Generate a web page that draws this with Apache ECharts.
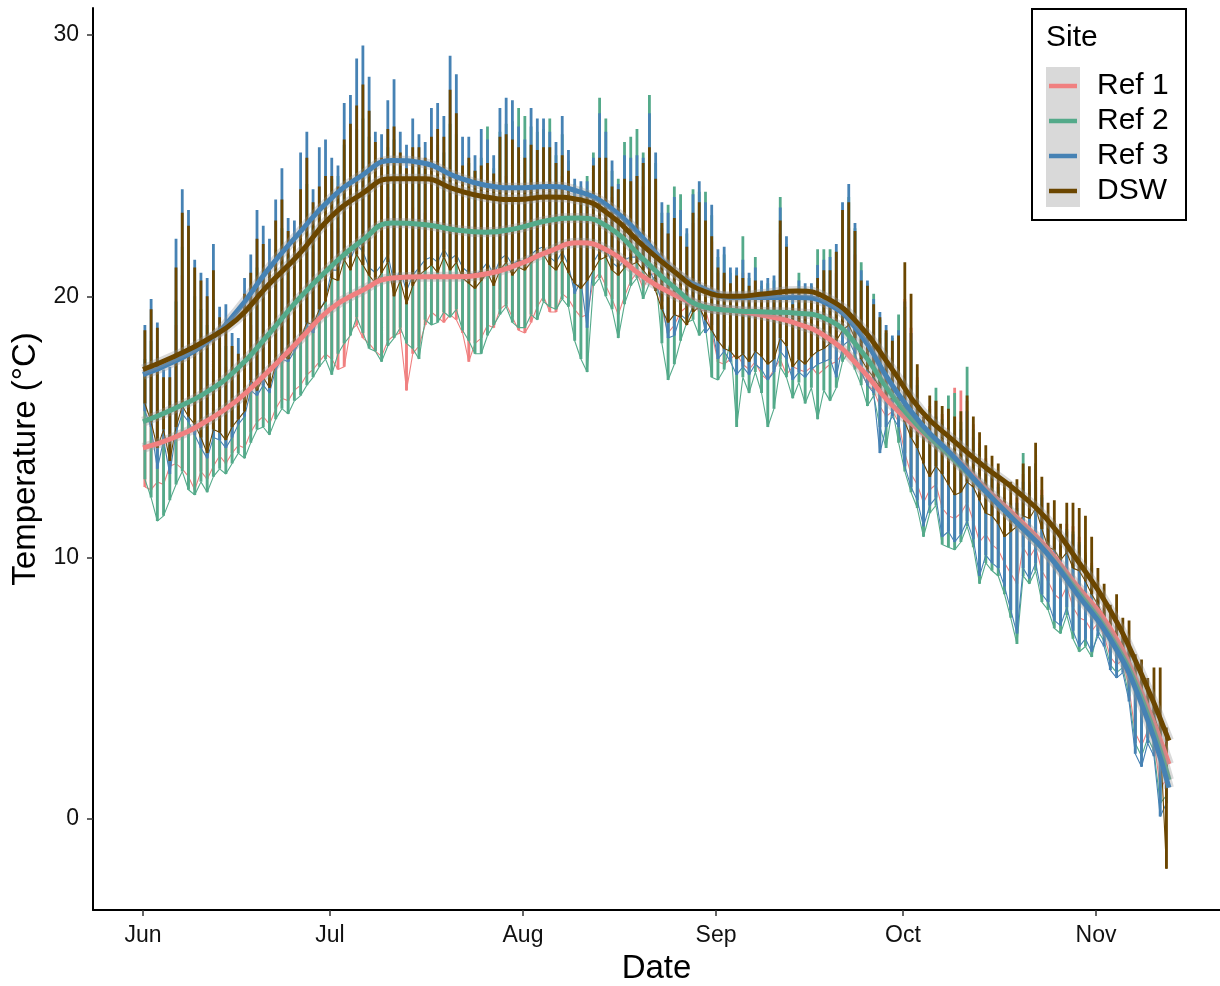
<!DOCTYPE html>
<html>
<head>
<meta charset="utf-8">
<script src="https://cdn.jsdelivr.net/npm/echarts@6/dist/echarts.min.js"></script>
<style>
  html, body { margin: 0; padding: 0; background: #ffffff; overflow: hidden; }
  #chart { width: 1220px; height: 986px; }
</style>
</head>
<body>
<div id="chart"></div>
<script>
// Site temperature record, 1 June – 12 November (day 0 = 1 June)
const siteNames = ['Ref 1', 'Ref 2', 'Ref 3', 'DSW'];
const monthTicks = [0, 30, 61, 92, 122, 153];
const monthLabels = ['Jun', 'Jul', 'Aug', 'Sep', 'Oct', 'Nov'];
const tempTicks = [0, 10, 20, 30];

// Daily maximum / minimum temperature (°C), one value per day, Jun → Nov
const ref1Max = [
  16.8,17.5,17.0,15.6,15.5,18.9,20.8,20.4,19.1,18.6,18.0,18.9,17.5,17.3,16.7,16.4,18.2,18.9,20.0,19.9,19.3,20.7,21.4,20.6,20.5,22.0,23.0,21.7,22.3,22.7,
  22.5,22.6,23.5,23.7,24.1,24.5,24.0,23.2,23.1,23.8,24.1,23.3,23.0,23.4,23.3,23.2,23.8,24.0,23.7,24.6,24.3,23.4,23.6,23.3,23.7,24.2,23.5,24.3,24.6,24.5,24.8,
  24.2,24.5,24.4,24.6,24.5,24.1,24.6,24.0,23.3,23.2,23.5,24.2,25.1,24.8,23.8,23.4,24.3,24.5,24.6,24.2,25.2,24.0,22.6,22.4,22.8,22.4,21.9,22.8,23.0,22.6,22.1,
  20.9,20.8,20.3,20.5,20.9,20.2,20.6,19.9,20.0,20.0,22.4,21.5,19.5,19.9,19.7,19.7,20.4,20.6,20.6,20.9,22.2,22.6,21.6,20.2,19.6,19.1,18.4,17.9,17.6,17.8,
  19.9,18.8,16.9,15.4,15.8,16.0,15.5,15.6,16.5,16.4,16.0,15.1,14.4,13.8,13.3,12.9,12.3,12.2,12.3,13.2,12.9,13.6,12.6,11.6,11.4,10.7,11.3,11.2,10.8,10.2,9.8,
  8.8,8.2,7.8,7.6,7.1,6.8,5.8,5.3,4.7,4.5,3.9,2.4
];
const ref1Min = [
  12.7,12.6,12.9,12.8,13.5,13.6,13.4,13.1,12.6,13.3,13.0,13.5,13.9,13.6,14.0,14.3,14.2,14.8,15.2,15.4,15.1,15.7,16.1,16.0,16.4,16.6,17.0,17.2,17.5,17.8,
  17.6,17.2,17.3,18.7,18.9,18.4,18.2,17.9,17.7,18.3,18.5,18.6,16.4,17.8,18.1,18.9,19.4,19.2,19.0,19.3,19.1,18.6,17.5,18.2,18.4,18.9,18.8,19.5,19.7,19.2,18.7,
  18.6,19.0,19.6,20.0,19.4,19.4,20.1,19.9,19.5,19.2,19.3,20.6,20.9,20.4,19.9,19.3,20.0,20.6,20.9,20.3,20.8,20.9,19.5,18.6,18.9,19.4,19.6,19.8,19.4,19.5,18.6,
  17.5,17.4,17.6,17.8,17.4,17.2,17.5,17.0,16.8,17.2,17.6,17.0,17.3,17.2,17.1,17.3,17.0,17.2,17.4,17.5,17.8,17.9,17.6,17.1,16.6,16.4,15.8,15.4,15.6,15.2,
  14.0,13.2,12.8,12.1,12.6,12.8,11.9,11.6,11.5,11.7,12.1,11.4,10.6,10.9,10.5,10.3,9.8,9.4,9.0,10.4,10.0,10.4,9.5,9.1,8.6,8.4,8.9,8.1,7.7,7.6,7.2,
  7.5,7.0,6.2,5.9,6.1,5.0,3.3,2.8,3.4,3.0,1.2,1.5
];
const ref2Max = [
  17.6,18.3,17.7,16.1,16.0,19.8,21.9,21.5,20.0,19.5,18.9,19.9,18.3,18.1,17.3,17.0,19.0,19.9,21.1,20.9,20.2,21.8,22.6,21.6,21.4,23.1,24.3,22.7,23.3,23.7,
  24.5,24.6,25.8,26.0,26.4,26.8,26.1,25.1,25.0,25.7,26.0,25.0,24.6,25.2,25.1,24.9,25.6,25.8,25.5,26.6,26.2,24.9,25.1,24.8,25.3,26.5,24.9,26.3,26.6,26.7,27.2,
  26.9,26.5,26.3,26.4,26.8,25.4,26.2,25.2,24.3,24.2,24.6,25.5,27.6,26.8,24.8,24.5,25.9,26.1,26.4,25.5,27.7,25.1,23.2,23.5,24.2,23.9,22.4,24.1,24.0,24.0,23.1,
  21.5,21.6,20.9,21.0,22.3,20.7,21.5,20.4,20.5,20.6,23.8,22.0,19.9,20.9,20.3,20.4,21.8,21.8,21.8,21.7,23.2,23.8,22.6,21.3,20.5,20.1,19.1,18.6,18.4,19.3,
  19.6,18.3,16.8,15.2,15.7,16.5,15.3,16.2,16.3,15.2,17.3,14.9,14.2,13.7,13.4,12.8,12.2,12.1,11.9,14.0,12.8,13.6,12.4,11.5,11.3,10.6,11.1,11.0,10.6,10.1,9.7,
  8.6,8.0,7.5,7.4,6.9,6.5,5.5,5.0,4.3,4.2,3.4,1.8
];
const ref2Min = [
  13.0,12.3,11.4,11.6,12.2,12.8,13.3,12.6,12.4,12.9,12.5,13.1,13.4,13.2,13.6,14.0,13.8,14.4,14.9,15.0,14.7,15.3,15.7,15.5,16.0,16.2,16.6,16.9,17.3,17.6,
  17.0,17.8,18.2,18.5,19.2,18.6,18.0,17.9,17.5,18.1,18.4,18.8,18.2,18.0,17.6,19.1,18.9,19.0,19.4,19.2,19.5,18.7,18.3,17.8,17.8,18.5,18.9,19.3,19.6,19.0,18.8,
  18.8,19.3,19.1,19.8,19.6,19.5,19.9,19.6,18.3,17.6,17.1,20.4,20.7,20.0,19.5,18.4,19.7,20.4,20.7,19.9,20.5,20.8,18.2,16.8,17.4,18.3,19.0,19.1,18.5,18.8,16.9,
  16.8,17.2,18.3,15.0,16.9,16.3,17.1,16.3,15.0,15.7,17.3,16.9,16.1,16.7,15.9,16.5,15.3,16.4,16.0,16.5,17.5,17.9,17.2,16.6,15.8,16.2,15.0,14.2,15.7,14.4,
  13.3,12.5,11.9,10.8,11.7,12.0,10.5,10.4,10.3,10.6,11.2,10.4,9.0,9.8,9.5,9.3,8.6,7.7,6.7,9.3,9.0,9.5,8.3,8.0,7.3,7.1,7.8,6.9,6.4,6.6,6.2,
  7.2,6.8,5.9,5.6,5.8,4.7,2.9,2.4,3.1,2.6,0.6,0.9
];
const ref3Max = [
  18.9,19.9,19.0,17.2,17.3,22.2,24.1,23.3,21.4,20.9,20.7,22.0,19.6,19.7,18.6,18.4,20.7,21.6,23.3,22.7,22.2,23.7,24.9,23.0,22.9,25.5,26.3,24.1,25.7,26.0,
  25.3,25.0,27.4,27.7,29.1,29.6,28.4,26.3,26.2,27.5,28.3,26.3,25.8,26.8,26.2,25.9,27.2,27.4,26.9,29.2,28.5,26.1,26.1,25.4,26.4,26.0,25.4,27.2,27.6,27.5,26.5,
  26.0,27.2,26.8,26.8,26.3,25.9,26.9,25.6,24.5,24.4,24.4,25.3,27.0,26.3,25.2,24.3,25.4,25.3,25.4,25.3,27.0,25.5,23.6,23.2,23.8,23.3,22.6,23.9,24.4,23.6,23.5,
  21.8,21.9,21.1,21.1,21.4,20.9,21.1,20.6,20.7,20.8,23.4,22.3,20.2,20.6,20.5,20.5,21.2,21.4,21.5,22.0,23.6,24.3,22.8,21.0,20.6,19.9,19.4,18.9,18.5,18.7,
  19.8,18.6,16.6,14.9,15.5,15.4,15.1,15.0,14.7,14.9,15.6,14.6,13.9,13.6,13.1,12.7,12.1,12.0,12.1,12.9,12.6,13.4,12.3,11.3,11.2,10.5,11.0,10.9,10.5,10.0,9.6,
  8.4,7.9,7.4,7.2,6.8,6.6,5.6,5.1,4.4,4.3,3.6,1.6
];
const ref3Min = [
  15.6,15.0,13.4,14.5,13.2,14.8,15.5,15.2,14.7,14.2,13.8,14.6,14.5,14.2,14.6,15.1,15.4,16.4,16.2,16.6,16.3,17.2,17.6,17.5,17.9,18.3,18.9,18.6,19.4,19.9,
  21.0,21.0,21.8,21.4,22.0,21.7,21.1,20.9,21.2,21.6,20.5,21.0,20.2,20.8,21.1,21.4,21.5,21.3,21.8,21.4,21.6,21.1,20.9,20.8,21.0,21.3,20.8,21.4,21.6,21.2,21.4,
  21.3,21.6,21.8,21.9,21.5,21.3,21.7,21.2,20.1,20.6,18.8,21.3,21.7,21.8,21.3,21.1,21.4,21.5,21.5,21.3,21.0,20.5,19.8,18.4,18.5,19.3,19.1,19.6,19.8,18.6,18.9,
  17.6,17.9,17.5,17.0,17.3,17.0,17.4,17.2,16.8,17.1,17.9,17.6,16.8,17.1,16.9,17.2,17.4,17.5,17.6,16.9,18.1,18.3,17.8,17.1,16.6,16.3,14.0,15.0,15.4,15.0,
  13.5,12.7,12.2,11.2,12.0,12.3,10.8,11.0,10.6,10.9,11.4,10.7,9.3,10.1,9.8,9.6,8.9,8.0,7.1,9.6,9.2,9.8,8.6,8.3,7.6,7.4,8.1,7.2,6.6,6.9,6.4,
  7.0,6.6,5.7,5.4,5.6,4.5,2.5,2.0,2.9,2.4,0.1,0.6
];
const dswMax = [
  18.7,19.5,18.8,16.9,16.9,21.1,23.2,22.7,21.1,20.6,20.0,21.0,19.2,19.0,18.1,17.8,20.1,20.9,22.2,22.0,21.1,22.9,23.7,22.5,22.3,24.1,25.3,23.6,24.2,24.6,
  24.6,24.2,26.0,26.6,27.3,28.1,27.1,25.9,25.3,26.4,26.5,25.5,24.9,25.7,25.7,25.3,26.1,26.4,26.1,27.9,27.0,25.0,25.3,24.8,25.0,25.1,24.7,26.1,26.2,26.0,25.7,
  25.3,25.8,25.6,25.7,25.7,25.1,25.4,24.8,23.8,23.8,24.0,25.0,25.3,25.3,24.2,24.1,24.5,24.4,24.6,25.1,25.7,24.5,22.8,22.4,23.0,22.3,21.9,23.2,23.6,22.9,22.3,
  21.1,20.9,20.5,20.8,20.7,20.4,20.6,20.0,20.1,20.1,22.9,21.9,19.7,20.2,20.0,20.0,20.7,21.0,21.0,21.7,23.3,23.6,22.5,20.6,20.4,19.7,19.2,18.7,18.3,18.5,
  21.3,20.1,17.4,15.4,16.2,16.0,15.8,15.7,15.4,15.6,16.2,15.4,14.8,14.3,13.9,13.6,12.9,12.9,13.0,13.6,13.5,14.4,13.1,12.1,12.2,11.3,12.1,12.1,11.9,11.6,10.8,
  9.6,9.0,8.2,8.6,7.7,7.6,6.3,6.1,5.4,5.8,5.8,3.5
];
const dswMin = [
  15.9,15.2,14.2,14.9,13.7,15.0,15.8,15.4,15.1,14.6,14.0,14.9,14.8,14.5,15.0,15.3,15.6,16.8,16.4,16.9,16.5,17.4,17.8,17.6,18.1,18.4,19.0,18.9,19.5,19.8,
  20.7,20.6,21.4,21.0,21.6,21.2,20.8,20.5,20.9,21.3,20.0,20.6,19.7,20.4,20.8,21.0,21.2,20.9,21.5,21.0,21.3,20.7,20.5,20.3,20.6,20.9,20.4,21.0,21.3,20.8,21.1,
  21.0,21.3,21.5,21.6,21.2,21.0,21.4,20.9,20.5,20.3,20.6,21.0,21.4,21.5,21.0,20.8,21.1,21.2,21.3,21.0,20.7,20.2,19.5,19.0,19.3,19.2,18.9,19.4,19.6,19.1,18.7,
  18.3,18.0,17.9,17.6,17.8,17.5,17.9,17.7,17.4,17.6,18.4,18.1,17.3,17.6,17.4,17.7,17.9,18.0,18.2,18.3,18.7,18.9,18.4,17.6,17.2,16.9,16.5,16.0,16.1,15.9,
  15.2,14.6,14.2,13.6,13.1,13.5,13.2,12.8,12.4,12.5,12.9,12.7,12.2,11.7,11.6,11.3,10.8,11.0,11.2,11.6,11.5,11.9,11.1,10.4,10.3,9.9,10.2,9.6,9.5,9.1,8.6,
  8.2,7.7,7.3,7.0,6.5,6.2,5.2,4.9,4.3,4.0,3.2,-1.9
];

// Loess trend per site, sampled every five days
const smoothDays = [0,5,10,15,20,25,30,35,40,45,50,55,60,65,70,75,80,85,90,95,100,105,110,115,120,125,130,135,140,145,150,155,160,164.7];
const ref1Smooth = [14.2,14.6,15.2,16.0,17.1,18.3,19.5,20.2,20.7,20.75,20.75,20.85,21.2,21.7,22.05,21.7,20.8,20.1,19.6,19.45,19.25,18.95,18.4,17.3,15.9,14.8,13.9,12.7,11.6,10.4,8.9,7.4,5.0,2.1];
const ref2Smooth = [15.2,15.7,16.3,17.2,18.5,19.9,21.1,22.1,22.8,22.75,22.55,22.45,22.6,22.9,23.0,22.6,21.5,20.4,19.6,19.45,19.4,19.35,19.1,18.0,16.3,14.9,13.8,12.6,11.4,10.2,8.7,7.1,4.8,1.5];
const ref3Smooth = [17.0,17.5,18.2,19.4,21.0,22.4,23.7,24.6,25.2,25.1,24.6,24.25,24.15,24.2,24.0,23.4,22.3,21.0,20.3,19.95,19.95,19.95,19.7,18.6,16.7,15.1,13.9,12.6,11.4,10.2,8.6,7.0,4.6,1.2];
const dswSmooth = [17.2,17.7,18.3,19.1,20.4,21.6,23.0,23.9,24.5,24.5,24.1,23.8,23.7,23.8,23.7,23.1,22.0,21.0,20.2,20.0,20.1,20.2,19.9,18.9,17.3,15.6,14.5,13.5,12.6,11.5,9.9,8.1,5.7,3.0];

const siteColors = ['#F08080', '#54AA8A', '#4682B4', '#6B4600'];
const FONT = '"Liberation Sans", Arial, Helvetica, sans-serif';

// One vertical stroke per day, from the daily minimum up to the maximum
function dailyBars(maxArr, minArr) {
  const pts = [];
  for (let d = 0; d < maxArr.length; d++) {
    pts.push([d + 0.29, minArr[d]], [d + 0.30, maxArr[d]], [d + 0.31, minArr[d]], [d + 0.5, null]);
  }
  return pts;
}
// Overnight run joining one day's minimum to the next
function overnight(minArr) {
  return minArr.map((v, d) => [d + 0.30, v]);
}
function trend(values) {
  return smoothDays.map((d, i) => [d, values[i]]);
}

const dailySets = [
  [ref1Max, ref1Min], [ref2Max, ref2Min], [ref3Max, ref3Min], [dswMax, dswMin]
];
const trendSets = [ref1Smooth, ref2Smooth, ref3Smooth, dswSmooth];

const series = [];
dailySets.forEach((set, i) => {
  series.push({
    name: siteNames[i], type: 'line', data: dailyBars(set[0], set[1]),
    showSymbol: false, symbol: 'none', silent: true, connectNulls: false,
    itemStyle: { color: siteColors[i] },
    lineStyle: { color: siteColors[i], width: 2.8, cap: 'butt' },
    z: 2
  });
  series.push({
    name: siteNames[i], type: 'line', data: overnight(set[1]),
    showSymbol: false, symbol: 'none', silent: true,
    itemStyle: { color: siteColors[i] },
    lineStyle: { color: siteColors[i], width: 1.1 },
    z: 2
  });
});
trendSets.forEach((vals, i) => {
  // confidence band under the trend
  series.push({
    name: siteNames[i] + ' band', type: 'line', data: trend(vals), smooth: 0.5,
    showSymbol: false, symbol: 'none', silent: true,
    lineStyle: { color: 'rgba(150,150,150,0.35)', width: 10, cap: 'butt' },
    z: 3
  });
  series.push({
    name: siteNames[i], type: 'line', data: trend(vals), smooth: 0.5,
    showSymbol: false, symbol: 'none', silent: true,
    itemStyle: { color: siteColors[i] },
    lineStyle: { color: siteColors[i], width: 5 },
    z: 3
  });
});

const chart = echarts.init(document.getElementById('chart'), null, { renderer: 'canvas' });
chart.setOption({
  animation: false,
  backgroundColor: '#ffffff',
  grid: { left: 93, right: 0, top: 8, bottom: 76, containLabel: false, outerBoundsMode: 'none' },
  xAxis: {
    type: 'value', min: -8.03, max: 172.9,
    name: 'Date', nameLocation: 'middle', nameGap: 42,
    nameTextStyle: { fontFamily: FONT, fontSize: 33, color: '#000' },
    axisLine: { show: true, onZero: false, lineStyle: { color: '#000', width: 2 } },
    axisTick: { show: true, length: 6, customValues: monthTicks, lineStyle: { color: '#333', width: 1.5 } },
    axisLabel: {
      customValues: monthTicks, margin: 14,
      formatter: v => monthLabels[monthTicks.indexOf(v)],
      fontFamily: FONT, fontSize: 23, color: '#111'
    },
    splitLine: { show: false }
  },
  yAxis: {
    type: 'value', min: -3.48, max: 31.03,
    name: 'Temperature (°C)', nameLocation: 'middle', nameGap: 50,
    nameTextStyle: { fontFamily: FONT, fontSize: 33, color: '#000' },
    axisLine: { show: true, onZero: false, lineStyle: { color: '#000', width: 2 } },
    axisTick: { show: true, length: 6, customValues: tempTicks, lineStyle: { color: '#333', width: 1.5 } },
    axisLabel: {
      customValues: tempTicks, margin: 14,
      fontFamily: FONT, fontSize: 23, color: '#111'
    },
    splitLine: { show: false }
  },
  legend: {
    data: siteNames, orient: 'vertical', left: 1049, top: 71, padding: 0,
    icon: 'rect', itemWidth: 28, itemHeight: 4.5, itemGap: 5,
    selectedMode: false,
    textStyle: { fontFamily: FONT, fontSize: 30, color: '#000', lineHeight: 26, padding: [0, 0, 0, 15] },
    z: 10
  },
  graphic: [
    { type: 'rect', z: 8, shape: { x: 1032, y: 9, width: 154, height: 211 },
      style: { fill: '#ffffff', stroke: '#000000', lineWidth: 2 } },
    { type: 'rect', z: 9, shape: { x: 1046, y: 67, width: 34, height: 140 },
      style: { fill: '#d9d9d9' } },
    { type: 'text', z: 9, left: 1046, top: 23,
      style: { text: 'Site', fontFamily: FONT, fontSize: 30, fill: '#000' } }
  ],
  series: series
});
</script>
</body>
</html>
